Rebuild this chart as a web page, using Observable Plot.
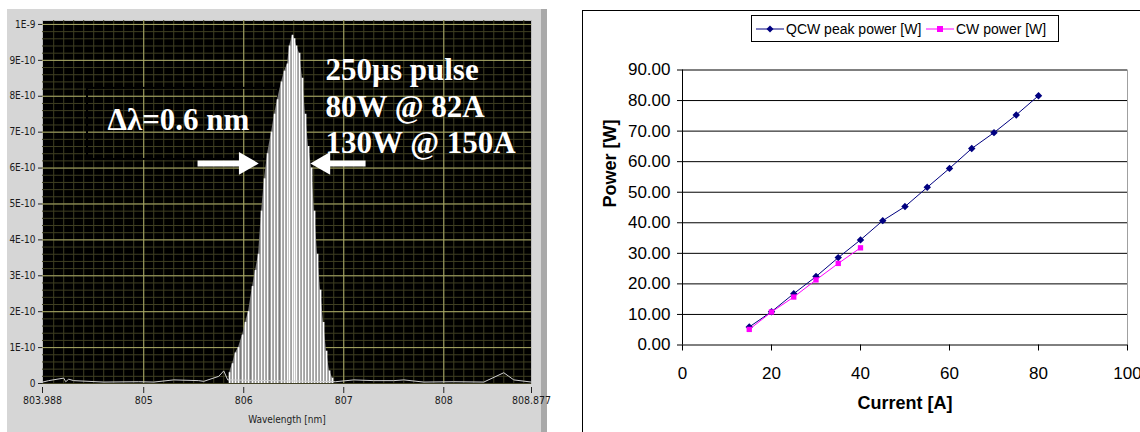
<!DOCTYPE html>
<html><head><meta charset="utf-8">
<script src="https://cdn.jsdelivr.net/npm/d3@7"></script>
<script src="https://cdn.jsdelivr.net/npm/@observablehq/plot@0.6"></script>
<style>
html,body{margin:0;padding:0;background:#fff;}
#root{position:relative;width:1140px;height:432px;overflow:hidden;background:#fff;}
#left{position:absolute;left:7px;top:9px;width:534px;height:423px;background:#d6d6d6;border-right:6px solid #a9a9a9;}
#right{position:absolute;left:582px;top:10px;width:558px;height:423px;border:1px solid #000;background:#fff;}
#left svg,#right svg{position:absolute;left:0;top:0;overflow:visible;}
#legend{position:absolute;left:168px;top:4px;width:308px;height:27px;border:1px solid #000;background:#fff;box-sizing:border-box;
  font-family:"Liberation Sans",Arial,sans-serif;font-size:14px;color:#000;white-space:nowrap;}
#legend .it{position:absolute;top:0;height:25px;display:flex;align-items:center;}
#legend svg{position:static;}
</style>
</head><body>
<div id="root">
  <div id="left"></div>
  <div id="right"><div id="legend"></div></div>
</div>
<script>
// ---------- Left panel: spectrum ----------
const specWavelength = [805.858,805.888,805.918,805.948,805.988,806.018,806.048,806.088,806.118,806.148,
  806.178,806.208,806.238,806.278,806.308,806.338,806.378,806.408,806.438,806.458,806.488,806.508,
  806.528,806.558,806.588,806.618,806.648,806.678,806.708,806.738,806.768,806.798,806.828,806.858,806.888];
const specIntensity = [0.30e-10,0.55e-10,0.85e-10,1.0e-10,1.35e-10,1.7e-10,2.0e-10,2.7e-10,3.15e-10,3.6e-10,
  4.8e-10,5.7e-10,6.4e-10,7.0e-10,7.5e-10,7.9e-10,8.4e-10,8.7e-10,8.9e-10,9.4e-10,9.7e-10,9.6e-10,
  9.4e-10,9.2e-10,8.5e-10,7.5e-10,6.6e-10,6.0e-10,4.8e-10,3.6e-10,2.6e-10,1.7e-10,0.9e-10,0.35e-10,0.15e-10];
const noiseWavelength = [803.99,804.05,804.2,804.22,804.25,804.3,804.6,804.95,805.1,805.3,805.55,805.6,805.75,805.8,805.84,
  806.92,807.1,807.3,807.5,807.6,807.8,808.1,808.4,808.6,808.65,808.7,808.877];
const noiseIntensity = [0.04e-10,0.08e-10,0.15e-10,0.05e-10,0.12e-10,0.08e-10,0.04e-10,0.05e-10,0.04e-10,0.1e-10,0.08e-10,0.06e-10,0.2e-10,0.35e-10,0.1e-10,
  0.05e-10,0.1e-10,0.08e-10,0.08e-10,0.1e-10,0.04e-10,0.05e-10,0.04e-10,0.3e-10,0.2e-10,0.1e-10,0.04e-10];
const specXTicks = [803.988,805,806,807,808,808.877];
const specXTickLabels = ["803.988","805","806","807","808","808.877"];
const specYTicks = [0,1e-10,2e-10,3e-10,4e-10,5e-10,6e-10,7e-10,8e-10,9e-10,1e-9];
const specYTickLabels = ["0","1E-10","2E-10","3E-10","4E-10","5E-10","6E-10","7E-10","8E-10","9E-10","1E-9"];
const specXLabel = "Wavelength [nm]";
const widthLabel = ["Δλ=0.6 nm"];
const pulseLabel = ["250µs pulse\n80W @ 82A\n130W @ 150A"];

const spectrum = specWavelength.map((x,i)=>({x, y: specIntensity[i]}));
const noise = noiseWavelength.map((x,i)=>({x, y: noiseIntensity[i]}));
const xLab = new Map(specXTicks.map((d,i)=>[d, specXTickLabels[i]]));
const yLab = new Map(specYTicks.map((d,i)=>[d, specYTickLabels[i]]));
const xMinor = d3.range(8041, 8089).map(d=>d/10);
const yMinor = d3.range(0, 51).map(d=>d*0.2e-10);
const smallFont = '"DejaVu Sans Condensed","Liberation Sans Narrow",sans-serif';
const serif = '"Liberation Serif","Times New Roman",serif';

const leftPlot = Plot.plot({
  width: 534, height: 423,
  marginLeft: 35, marginRight: 10, marginTop: 11, marginBottom: 49,
  style: {background: "transparent", fontFamily: smallFont, fontSize: "10px", color: "#1a1a1a", overflow: "visible"},
  x: {domain: [803.988, 808.877]},
  y: {domain: [0, 1.011e-9]},
  marks: [
    Plot.frame({fill: "#000", stroke: "#bbb"}),
    Plot.gridX(xMinor, {stroke: "#3f3f22", strokeOpacity: 1}),
    Plot.gridY(yMinor, {stroke: "#3f3f22", strokeOpacity: 1}),
    Plot.gridX(specXTicks.slice(1, -1), {stroke: "#a8a866", strokeOpacity: 1}),
    Plot.gridY(specYTicks.slice(1), {stroke: "#a8a866", strokeOpacity: 1}),
    Plot.rect([{x1: 804.438, x2: 806.348, y1: 6.24e-10, y2: 8.22e-10}], {x1:"x1", x2:"x2", y1:"y1", y2:"y2", fill: "none", stroke: "#000", strokeWidth: 2}),
    Plot.areaY(spectrum, {x: "x", y: "y", fill: "#7a7a7a"}),
    Plot.ruleX(spectrum, {x: "x", y1: 0, y2: "y", stroke: "#fff", strokeWidth: 1.7}),
    Plot.line(noise, {x: "x", y: "y", stroke: "#d0d0d0", strokeWidth: 1}),
    Plot.axisX(specXTicks, {tickFormat: d=>xLab.get(d), tickSize: 6, tickPadding: 3, dy: 4, label: null, stroke: "#222", fontSize: 10.5}),
    Plot.axisY(specYTicks, {tickFormat: d=>yLab.get(d), tickSize: 4, tickPadding: 3, label: null, stroke: "#222", fontSize: 10}),
    Plot.text([specXLabel], {frameAnchor: "bottom", dy: 39, fontSize: 10, fill: "#222"}),
    // arrows
    Plot.link([{x1: 805.538, x2: 805.97, y: 6.13e-10}, {x1: 807.218, x2: 806.85, y: 6.13e-10}], {x1: "x1", x2: "x2", y1: "y", y2: "y", stroke: "#fff", strokeWidth: 6}),
    Plot.dot([{x: 806.148, y: 6.13e-10}], {x: "x", y: "y", symbol: "triangle", rotate: 90, r: 8.5, dx: -13, fill: "#fff", stroke: "none"}),
    Plot.dot([{x: 806.668, y: 6.13e-10}], {x: "x", y: "y", symbol: "triangle", rotate: -90, r: 8.5, dx: 13, fill: "#fff", stroke: "none"}),
    Plot.text(widthLabel, {x: 804.638, y: 7.33e-10, text: d=>d, textAnchor: "start", lineAnchor: "middle", fontFamily: serif, fontWeight: "bold", fontSize: 31, fill: "#fff"}),
    Plot.text(pulseLabel, {x: 806.818, y: 9.16e-10, text: d=>d, textAnchor: "start", lineAnchor: "top", lineHeight: 1.17, fontFamily: serif, fontWeight: "bold", fontSize: 31, fill: "#fff"})
  ]
});
document.getElementById("left").appendChild(leftPlot);

// ---------- Right panel: power vs current ----------
const qcwCurrent = [15,20,25,30,35,40,45,50,55,60,65,70,75,80];
const qcwPower = [5.9,10.9,16.8,22.4,28.6,34.4,40.7,45.3,51.6,57.8,64.3,69.5,75.3,81.6];
const cwCurrent = [15,20,25,30,35,40];
const cwPower = [5.1,10.8,15.7,21.3,26.7,31.8];
const seriesNames = ["QCW peak power [W]", "CW power [W]"];
const seriesColors = ["#000080", "#ff00ff"];
const powerTicks = [0,10,20,30,40,50,60,70,80,90];
const currentTicks = [0,20,40,60,80,100];
const xTitle = "Current [A]";
const yTitle = "Power [W]";

const qcw = qcwCurrent.map((x,i)=>({x, y: qcwPower[i]}));
const cw = cwCurrent.map((x,i)=>({x, y: cwPower[i]}));
const arial = '"Liberation Sans",Arial,sans-serif';

const rightPlot = Plot.plot({
  width: 558, height: 423,
  marginLeft: 99, marginRight: 14, marginTop: 58.5, marginBottom: 89.5,
  style: {background: "transparent", fontFamily: arial, fontSize: "17px", color: "#000"},
  x: {domain: [0, 100]},
  y: {domain: [0, 90]},
  marks: [
    Plot.gridY(powerTicks.slice(1), {stroke: "#000", strokeOpacity: 1}),
    Plot.ruleX([100], {stroke: "#a0a0a0"}),
    Plot.ruleX([0], {stroke: "#000"}),
    Plot.ruleY([0], {stroke: "#000"}),
    Plot.line(qcw, {x: "x", y: "y", stroke: seriesColors[0], strokeWidth: 1}),
    Plot.dot(qcw, {x: "x", y: "y", symbol: "diamond2", r: 2.4, fill: seriesColors[0], stroke: seriesColors[0]}),
    Plot.line(cw, {x: "x", y: "y", stroke: seriesColors[1], strokeWidth: 1}),
    Plot.dot(cw, {x: "x", y: "y", symbol: "square", r: 3, fill: seriesColors[1], stroke: "none"}),
    Plot.axisY(powerTicks, {tickFormat: d3.format(".2f"), tickSize: 5, tickPadding: 7, label: null, fontSize: 17}),
    Plot.axisX(currentTicks, {tickSize: 6, tickPadding: 16, label: null, fontSize: 17}),
    Plot.text([yTitle], {frameAnchor: "left", rotate: -90, dx: -72, fontWeight: "bold", fontSize: 18}),
    Plot.text([xTitle], {frameAnchor: "bottom", dy: 64, fontWeight: "bold", fontSize: 18})
  ]
});
document.getElementById("right").insertBefore(rightPlot, document.getElementById("legend"));

// legend (HTML)
const legend = document.getElementById("legend");
const symbols = ["diamond", "square"];
const itemLeft = [4, 174];
seriesNames.forEach((name, i) => {
  const it = document.createElement("span");
  it.className = "it";
  it.style.left = itemLeft[i] + "px";
  const mk = symbols[i] === "diamond"
    ? `<polygon points="14,1.5 17.5,5 14,8.5 10.5,5" fill="${seriesColors[i]}"/>`
    : `<rect x="11" y="2" width="6" height="6" fill="${seriesColors[i]}"/>`;
  it.innerHTML = `<svg width="28" height="10"><line x1="0" x2="28" y1="5" y2="5" stroke="${seriesColors[i]}" stroke-width="1"/>${mk}</svg><span style="margin-left:2px">${name}</span>`;
  legend.appendChild(it);
});
</script>
</body></html>
